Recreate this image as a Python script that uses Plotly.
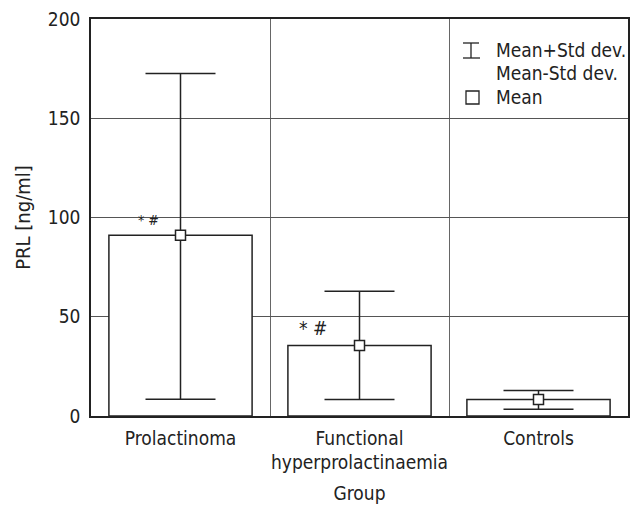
import plotly.graph_objects as go

groups = ["Prolactinoma", "Functional<br>hyperprolactinaemia", "Controls"]
mean_prl = [91.0, 35.5, 8.3]
sd_plus = [81.5, 27.3, 4.5]    # upper cap - mean
sd_minus = [82.5, 27.2, 4.9]   # mean - lower cap
sig_labels = ["* #", "* #"]
sig_groups = [0, 1]
sig_y = [98.5, 44.5]
sig_dx = [-0.18, -0.26]
sig_sizes = [14, 19]

FONT = "Liberation Sans Narrow, DejaVu Sans Condensed, Roboto Condensed, Arial Narrow, sans-serif"
FS = 19

fig = go.Figure()
fig.add_trace(go.Bar(
    x=groups, y=mean_prl, width=0.8,
    marker=dict(color="white", line=dict(color="#222", width=1.5)),
    showlegend=False, hoverinfo="skip",
))
fig.add_trace(go.Scatter(
    x=groups, y=mean_prl, mode="markers",
    marker=dict(symbol="square", size=10, color="white",
                line=dict(color="#222", width=1.5)),
    error_y=dict(type="data", symmetric=False, array=sd_plus,
                 arrayminus=sd_minus, color="#222", thickness=1.5, width=35),
    showlegend=False,
))

annotations = []
for g, lab, yv, dx, fs in zip(sig_groups, sig_labels, sig_y, sig_dx, sig_sizes):
    annotations.append(dict(x=g + dx, y=yv, xref="x", yref="y", text=lab,
                            showarrow=False, font=dict(size=fs, family=FONT, color="#222")))

# legend drawn in pixel-mapped paper coords
L, R, T, B = 91, 628, 19, 416
def px(xp):
    return (xp - L) / (R - L)
def py(yp):
    return (B - yp) / (B - T)

shapes = [
    dict(type="line", xref="paper", yref="paper", x0=px(463), x1=px(479), y0=py(43), y1=py(43), line=dict(color="#222", width=1.3)),
    dict(type="line", xref="paper", yref="paper", x0=px(463), x1=px(480), y0=py(58), y1=py(58), line=dict(color="#222", width=1.3)),
    dict(type="line", xref="paper", yref="paper", x0=px(471), x1=px(471), y0=py(43), y1=py(58), line=dict(color="#222", width=1.3)),
    dict(type="rect", xref="paper", yref="paper", x0=px(466), x1=px(479), y0=py(91), y1=py(104), line=dict(color="#222", width=1.3), fillcolor="white"),
]
for text, ypix in [("Mean+Std dev.", 50), ("Mean-Std dev.", 73), ("Mean", 97)]:
    annotations.append(dict(x=px(494), y=py(ypix), xref="paper", yref="paper", text=text,
                            xanchor="left", yanchor="middle", showarrow=False,
                            font=dict(size=FS, family=FONT, color="#222")))

fig.update_layout(
    width=631, height=505,
    margin=dict(l=L, r=631 - R, t=T, b=505 - B),
    plot_bgcolor="white", paper_bgcolor="white",
    font=dict(family=FONT, size=FS, color="#222"),
    bargap=0.2,
    shapes=shapes, annotations=annotations,
    xaxis=dict(
        type="category", range=[-0.5, 2.5], tickson="boundaries",
        showgrid=True, gridcolor="#666", gridwidth=1.2,
        showline=True, linecolor="#222", linewidth=1.5, mirror=True,
        ticks="", ticklabelstandoff=4, tickangle=0, automargin=False,
        title=dict(text="Group", standoff=14, font=dict(size=FS)),
    ),
    yaxis=dict(
        range=[0, 200], tickvals=[0, 50, 100, 150, 200],
        showgrid=True, gridcolor="#555", gridwidth=1,
        showline=True, linecolor="#222", linewidth=1.5, mirror=True,
        ticks="", ticklabelstandoff=5, zeroline=False, automargin=False,
        title=dict(text="PRL [ng/ml]", standoff=12, font=dict(size=FS + 1)),
    ),
)

fig.write_html("out.html")
